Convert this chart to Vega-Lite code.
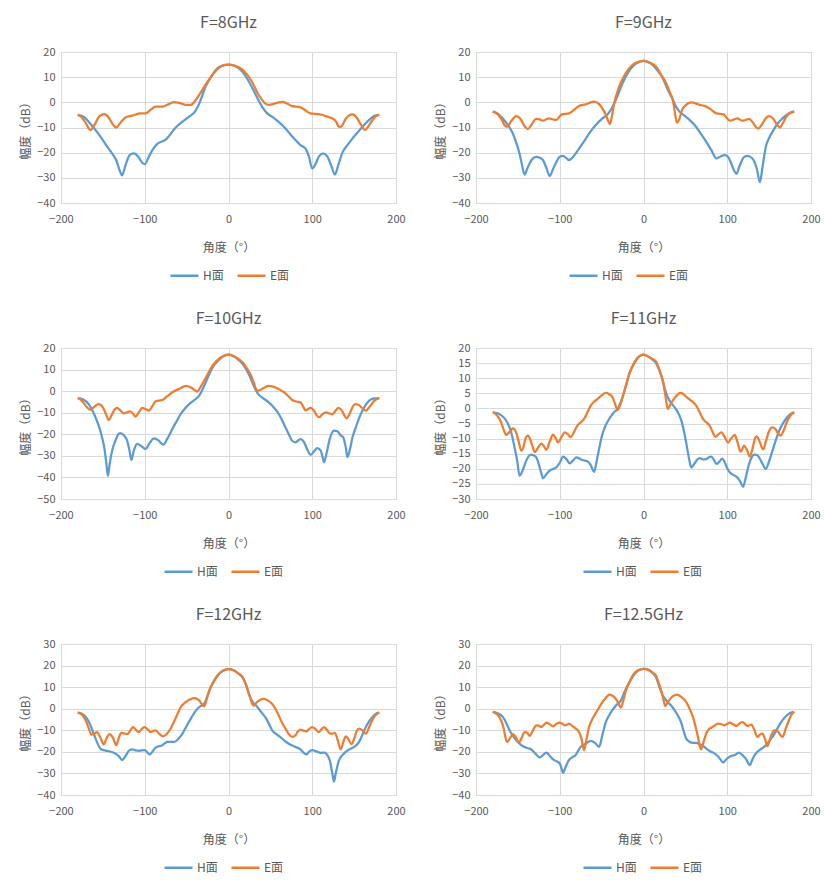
{
  "$schema": "https://vega.github.io/schema/vega-lite/v6.json",
  "background": "white",
  "padding": {"top": 14, "left": 19, "right": 10, "bottom": 8},
  "datasets": {
    "pattern": [
      {"freq":"8","plane":"H面","angle":-180,"dB":-5},{"freq":"8","plane":"H面","angle":-172,"dB":-6},{"freq":"8","plane":"H面","angle":-167,"dB":-7.7},{"freq":"8","plane":"H面","angle":-160,"dB":-10.5},{"freq":"8","plane":"H面","angle":-152,"dB":-14},{"freq":"8","plane":"H面","angle":-145,"dB":-17.5},{"freq":"8","plane":"H面","angle":-139,"dB":-20.3},{"freq":"8","plane":"H面","angle":-134,"dB":-23},{"freq":"8","plane":"H面","angle":-130,"dB":-27},{"freq":"8","plane":"H面","angle":-127,"dB":-29},{"freq":"8","plane":"H面","angle":-123,"dB":-25},{"freq":"8","plane":"H面","angle":-118,"dB":-21},{"freq":"8","plane":"H面","angle":-113,"dB":-20.3},{"freq":"8","plane":"H面","angle":-108,"dB":-21.5},{"freq":"8","plane":"H面","angle":-103,"dB":-24},{"freq":"8","plane":"H面","angle":-100,"dB":-24.6},{"freq":"8","plane":"H面","angle":-95,"dB":-21.5},{"freq":"8","plane":"H面","angle":-90,"dB":-18.5},{"freq":"8","plane":"H面","angle":-85,"dB":-16.5},{"freq":"8","plane":"H面","angle":-75,"dB":-14.8},{"freq":"8","plane":"H面","angle":-63,"dB":-10},{"freq":"8","plane":"H面","angle":-55,"dB":-7.7},{"freq":"8","plane":"H面","angle":-47,"dB":-5.7},{"freq":"8","plane":"H面","angle":-40,"dB":-3.7},{"freq":"8","plane":"H面","angle":-35,"dB":-0.5},{"freq":"8","plane":"H面","angle":-27,"dB":6.5},{"freq":"8","plane":"H面","angle":-20,"dB":10.5},{"freq":"8","plane":"H面","angle":-15,"dB":13},{"freq":"8","plane":"H面","angle":-8,"dB":14.5},{"freq":"8","plane":"H面","angle":0,"dB":15},{"freq":"8","plane":"H面","angle":8,"dB":14.4},{"freq":"8","plane":"H面","angle":17,"dB":12},{"freq":"8","plane":"H面","angle":28,"dB":6},{"freq":"8","plane":"H面","angle":34,"dB":2},{"freq":"8","plane":"H面","angle":40,"dB":-1.7},{"freq":"8","plane":"H面","angle":46,"dB":-4.3},{"freq":"8","plane":"H面","angle":52,"dB":-5.7},{"freq":"8","plane":"H面","angle":60,"dB":-7.8},{"freq":"8","plane":"H面","angle":68,"dB":-10.4},{"freq":"8","plane":"H面","angle":74,"dB":-12.8},{"freq":"8","plane":"H面","angle":80,"dB":-15},{"freq":"8","plane":"H面","angle":86,"dB":-17},{"freq":"8","plane":"H面","angle":92,"dB":-18.4},{"freq":"8","plane":"H面","angle":96,"dB":-21.5},{"freq":"8","plane":"H面","angle":100,"dB":-26.3},{"freq":"8","plane":"H面","angle":104,"dB":-24.5},{"freq":"8","plane":"H面","angle":108,"dB":-21.5},{"freq":"8","plane":"H面","angle":113,"dB":-20.3},{"freq":"8","plane":"H面","angle":118,"dB":-21.5},{"freq":"8","plane":"H面","angle":123,"dB":-25.5},{"freq":"8","plane":"H面","angle":127,"dB":-28.7},{"freq":"8","plane":"H面","angle":131,"dB":-25},{"freq":"8","plane":"H面","angle":136,"dB":-20},{"freq":"8","plane":"H面","angle":142,"dB":-17},{"freq":"8","plane":"H面","angle":148,"dB":-14.4},{"freq":"8","plane":"H面","angle":154,"dB":-12},{"freq":"8","plane":"H面","angle":160,"dB":-9.7},{"freq":"8","plane":"H面","angle":170,"dB":-6.4},{"freq":"8","plane":"H面","angle":175,"dB":-5.3},{"freq":"8","plane":"H面","angle":180,"dB":-5},
      {"freq":"8","plane":"E面","angle":-180,"dB":-5},{"freq":"8","plane":"E面","angle":-175,"dB":-6},{"freq":"8","plane":"E面","angle":-170,"dB":-8.5},{"freq":"8","plane":"E面","angle":-165,"dB":-11},{"freq":"8","plane":"E面","angle":-160,"dB":-9},{"freq":"8","plane":"E面","angle":-154,"dB":-5.5},{"freq":"8","plane":"E面","angle":-148,"dB":-4.7},{"freq":"8","plane":"E面","angle":-143,"dB":-6},{"freq":"8","plane":"E面","angle":-138,"dB":-8.8},{"freq":"8","plane":"E面","angle":-134,"dB":-10},{"freq":"8","plane":"E面","angle":-130,"dB":-8.5},{"freq":"8","plane":"E面","angle":-123,"dB":-6},{"freq":"8","plane":"E面","angle":-115,"dB":-5.3},{"freq":"8","plane":"E面","angle":-105,"dB":-4.4},{"freq":"8","plane":"E面","angle":-99,"dB":-4.4},{"freq":"8","plane":"E面","angle":-93,"dB":-3},{"freq":"8","plane":"E面","angle":-87,"dB":-1.7},{"freq":"8","plane":"E面","angle":-79,"dB":-1.7},{"freq":"8","plane":"E面","angle":-72,"dB":-0.8},{"freq":"8","plane":"E面","angle":-65,"dB":0.1},{"freq":"8","plane":"E面","angle":-58,"dB":-0.3},{"freq":"8","plane":"E面","angle":-51,"dB":-1},{"freq":"8","plane":"E面","angle":-45,"dB":-1},{"freq":"8","plane":"E面","angle":-40,"dB":0.5},{"freq":"8","plane":"E面","angle":-35,"dB":3},{"freq":"8","plane":"E面","angle":-25,"dB":8.2},{"freq":"8","plane":"E面","angle":-15,"dB":12.6},{"freq":"8","plane":"E面","angle":-8,"dB":14.4},{"freq":"8","plane":"E面","angle":0,"dB":15},{"freq":"8","plane":"E面","angle":8,"dB":14.5},{"freq":"8","plane":"E面","angle":17,"dB":12.9},{"freq":"8","plane":"E面","angle":28,"dB":8.2},{"freq":"8","plane":"E面","angle":35,"dB":3.5},{"freq":"8","plane":"E面","angle":40,"dB":1},{"freq":"8","plane":"E面","angle":44,"dB":-0.5},{"freq":"8","plane":"E面","angle":48,"dB":-1},{"freq":"8","plane":"E面","angle":55,"dB":-0.5},{"freq":"8","plane":"E面","angle":60,"dB":0},{"freq":"8","plane":"E面","angle":65,"dB":0.2},{"freq":"8","plane":"E面","angle":70,"dB":-0.5},{"freq":"8","plane":"E面","angle":76,"dB":-1.5},{"freq":"8","plane":"E面","angle":86,"dB":-2},{"freq":"8","plane":"E面","angle":92,"dB":-3.2},{"freq":"8","plane":"E面","angle":98,"dB":-4.4},{"freq":"8","plane":"E面","angle":108,"dB":-4.7},{"freq":"8","plane":"E面","angle":118,"dB":-5.7},{"freq":"8","plane":"E面","angle":126,"dB":-6.8},{"freq":"8","plane":"E面","angle":129,"dB":-8},{"freq":"8","plane":"E面","angle":132,"dB":-9.8},{"freq":"8","plane":"E面","angle":135,"dB":-9.5},{"freq":"8","plane":"E面","angle":140,"dB":-6.5},{"freq":"8","plane":"E面","angle":148,"dB":-4.8},{"freq":"8","plane":"E面","angle":153,"dB":-6},{"freq":"8","plane":"E面","angle":158,"dB":-8.8},{"freq":"8","plane":"E面","angle":163,"dB":-11},{"freq":"8","plane":"E面","angle":167,"dB":-9.5},{"freq":"8","plane":"E面","angle":172,"dB":-7},{"freq":"8","plane":"E面","angle":176,"dB":-5.5},{"freq":"8","plane":"E面","angle":180,"dB":-5},
      {"freq":"9","plane":"H面","angle":-180,"dB":-3.7},{"freq":"9","plane":"H面","angle":-174,"dB":-4.5},{"freq":"9","plane":"H面","angle":-168,"dB":-6.4},{"freq":"9","plane":"H面","angle":-162,"dB":-9},{"freq":"9","plane":"H面","angle":-156,"dB":-12.4},{"freq":"9","plane":"H面","angle":-152,"dB":-16},{"freq":"9","plane":"H面","angle":-148,"dB":-20.4},{"freq":"9","plane":"H面","angle":-145,"dB":-25},{"freq":"9","plane":"H面","angle":-142,"dB":-28.7},{"freq":"9","plane":"H面","angle":-139,"dB":-26.5},{"freq":"9","plane":"H面","angle":-136,"dB":-24.3},{"freq":"9","plane":"H面","angle":-132,"dB":-22.3},{"freq":"9","plane":"H面","angle":-128,"dB":-21.7},{"freq":"9","plane":"H面","angle":-124,"dB":-22},{"freq":"9","plane":"H面","angle":-120,"dB":-23},{"freq":"9","plane":"H面","angle":-116,"dB":-26},{"freq":"9","plane":"H面","angle":-112,"dB":-29.3},{"freq":"9","plane":"H面","angle":-108,"dB":-26.5},{"freq":"9","plane":"H面","angle":-104,"dB":-23.7},{"freq":"9","plane":"H面","angle":-100,"dB":-21.6},{"freq":"9","plane":"H面","angle":-96,"dB":-21.3},{"freq":"9","plane":"H面","angle":-92,"dB":-22.2},{"freq":"9","plane":"H面","angle":-89,"dB":-23},{"freq":"9","plane":"H面","angle":-85,"dB":-22},{"freq":"9","plane":"H面","angle":-77,"dB":-18.4},{"freq":"9","plane":"H面","angle":-70,"dB":-15},{"freq":"9","plane":"H面","angle":-65,"dB":-12.4},{"freq":"9","plane":"H面","angle":-57,"dB":-9},{"freq":"9","plane":"H面","angle":-49,"dB":-6.4},{"freq":"9","plane":"H面","angle":-43,"dB":-4.8},{"freq":"9","plane":"H面","angle":-39,"dB":-3},{"freq":"9","plane":"H面","angle":-33,"dB":1},{"freq":"9","plane":"H面","angle":-25,"dB":7.6},{"freq":"9","plane":"H面","angle":-19,"dB":11.5},{"freq":"9","plane":"H面","angle":-13,"dB":14.2},{"freq":"9","plane":"H面","angle":-6,"dB":15.9},{"freq":"9","plane":"H面","angle":0,"dB":16.5},{"freq":"9","plane":"H面","angle":5,"dB":16},{"freq":"9","plane":"H面","angle":11,"dB":14.9},{"freq":"9","plane":"H面","angle":17,"dB":12.5},{"freq":"9","plane":"H面","angle":23,"dB":9.6},{"freq":"9","plane":"H面","angle":29,"dB":5},{"freq":"9","plane":"H面","angle":35,"dB":1},{"freq":"9","plane":"H面","angle":39,"dB":-1.8},{"freq":"9","plane":"H面","angle":43,"dB":-3.7},{"freq":"9","plane":"H面","angle":49,"dB":-5.3},{"freq":"9","plane":"H面","angle":55,"dB":-7},{"freq":"9","plane":"H面","angle":61,"dB":-9},{"freq":"9","plane":"H面","angle":67,"dB":-11.7},{"freq":"9","plane":"H面","angle":75,"dB":-15.7},{"freq":"9","plane":"H面","angle":81,"dB":-19},{"freq":"9","plane":"H面","angle":87,"dB":-22.3},{"freq":"9","plane":"H面","angle":92,"dB":-21.5},{"freq":"9","plane":"H面","angle":97,"dB":-21},{"freq":"9","plane":"H面","angle":101,"dB":-21.7},{"freq":"9","plane":"H面","angle":105,"dB":-24.5},{"freq":"9","plane":"H面","angle":108,"dB":-27},{"freq":"9","plane":"H面","angle":111,"dB":-28.3},{"freq":"9","plane":"H面","angle":115,"dB":-25},{"freq":"9","plane":"H面","angle":120,"dB":-21.8},{"freq":"9","plane":"H面","angle":124,"dB":-21.3},{"freq":"9","plane":"H面","angle":130,"dB":-22.3},{"freq":"9","plane":"H面","angle":135,"dB":-26},{"freq":"9","plane":"H面","angle":139,"dB":-31.7},{"freq":"9","plane":"H面","angle":142,"dB":-26},{"freq":"9","plane":"H面","angle":146,"dB":-17.7},{"freq":"9","plane":"H面","angle":150,"dB":-14.2},{"freq":"9","plane":"H面","angle":154,"dB":-11.7},{"freq":"9","plane":"H面","angle":160,"dB":-8.5},{"freq":"9","plane":"H面","angle":166,"dB":-6.4},{"freq":"9","plane":"H面","angle":173,"dB":-4.5},{"freq":"9","plane":"H面","angle":180,"dB":-3.7},
      {"freq":"9","plane":"E面","angle":-180,"dB":-3.7},{"freq":"9","plane":"E面","angle":-175,"dB":-4.5},{"freq":"9","plane":"E面","angle":-170,"dB":-6.5},{"freq":"9","plane":"E面","angle":-166,"dB":-9},{"freq":"9","plane":"E面","angle":-163,"dB":-9.7},{"freq":"9","plane":"E面","angle":-158,"dB":-7.5},{"freq":"9","plane":"E面","angle":-152,"dB":-5.5},{"freq":"9","plane":"E面","angle":-147,"dB":-6.5},{"freq":"9","plane":"E面","angle":-142,"dB":-9.5},{"freq":"9","plane":"E面","angle":-138,"dB":-10.6},{"freq":"9","plane":"E面","angle":-134,"dB":-9},{"freq":"9","plane":"E面","angle":-128,"dB":-6.6},{"freq":"9","plane":"E面","angle":-124,"dB":-6.8},{"freq":"9","plane":"E面","angle":-120,"dB":-7.3},{"freq":"9","plane":"E面","angle":-116,"dB":-6.7},{"freq":"9","plane":"E面","angle":-113,"dB":-6.4},{"freq":"9","plane":"E面","angle":-108,"dB":-6.8},{"freq":"9","plane":"E面","angle":-104,"dB":-7},{"freq":"9","plane":"E面","angle":-100,"dB":-5.6},{"freq":"9","plane":"E面","angle":-97,"dB":-4.7},{"freq":"9","plane":"E面","angle":-89,"dB":-4.4},{"freq":"9","plane":"E面","angle":-83,"dB":-3},{"freq":"9","plane":"E面","angle":-77,"dB":-1.5},{"freq":"9","plane":"E面","angle":-69,"dB":-0.8},{"freq":"9","plane":"E面","angle":-63,"dB":0},{"freq":"9","plane":"E面","angle":-59,"dB":0.3},{"freq":"9","plane":"E面","angle":-53,"dB":-0.7},{"freq":"9","plane":"E面","angle":-48,"dB":-3},{"freq":"9","plane":"E面","angle":-45,"dB":-5},{"freq":"9","plane":"E面","angle":-42,"dB":-7.5},{"freq":"9","plane":"E面","angle":-40,"dB":-8.6},{"freq":"9","plane":"E面","angle":-38,"dB":-6},{"freq":"9","plane":"E面","angle":-35,"dB":-0.4},{"freq":"9","plane":"E面","angle":-29,"dB":6.3},{"freq":"9","plane":"E面","angle":-23,"dB":10.5},{"freq":"9","plane":"E面","angle":-17,"dB":13.6},{"freq":"9","plane":"E面","angle":-9,"dB":15.7},{"freq":"9","plane":"E面","angle":0,"dB":16.5},{"freq":"9","plane":"E面","angle":7,"dB":15.9},{"freq":"9","plane":"E面","angle":15,"dB":14.2},{"freq":"9","plane":"E面","angle":21,"dB":11},{"freq":"9","plane":"E面","angle":27,"dB":7.6},{"freq":"9","plane":"E面","angle":32,"dB":3.5},{"freq":"9","plane":"E面","angle":35,"dB":1},{"freq":"9","plane":"E面","angle":37,"dB":-3},{"freq":"9","plane":"E面","angle":40,"dB":-8.1},{"freq":"9","plane":"E面","angle":43,"dB":-6.5},{"freq":"9","plane":"E面","angle":46,"dB":-3},{"freq":"9","plane":"E面","angle":50,"dB":-1.3},{"freq":"9","plane":"E面","angle":54,"dB":-0.3},{"freq":"9","plane":"E面","angle":58,"dB":0},{"freq":"9","plane":"E面","angle":62,"dB":-0.4},{"freq":"9","plane":"E面","angle":67,"dB":-1},{"freq":"9","plane":"E面","angle":75,"dB":-1.7},{"freq":"9","plane":"E面","angle":80,"dB":-2.7},{"freq":"9","plane":"E面","angle":87,"dB":-4.4},{"freq":"9","plane":"E面","angle":95,"dB":-4.7},{"freq":"9","plane":"E面","angle":99,"dB":-6},{"freq":"9","plane":"E面","angle":103,"dB":-7.3},{"freq":"9","plane":"E面","angle":108,"dB":-6.8},{"freq":"9","plane":"E面","angle":112,"dB":-6.4},{"freq":"9","plane":"E面","angle":118,"dB":-7.3},{"freq":"9","plane":"E面","angle":122,"dB":-7},{"freq":"9","plane":"E面","angle":126,"dB":-6.6},{"freq":"9","plane":"E面","angle":130,"dB":-7.8},{"freq":"9","plane":"E面","angle":134,"dB":-9.7},{"freq":"9","plane":"E面","angle":137,"dB":-10.4},{"freq":"9","plane":"E面","angle":141,"dB":-9},{"freq":"9","plane":"E面","angle":146,"dB":-6.3},{"freq":"9","plane":"E面","angle":150,"dB":-5.5},{"freq":"9","plane":"E面","angle":155,"dB":-6.5},{"freq":"9","plane":"E面","angle":160,"dB":-9.2},{"freq":"9","plane":"E面","angle":163,"dB":-10},{"freq":"9","plane":"E面","angle":166,"dB":-8.5},{"freq":"9","plane":"E面","angle":172,"dB":-5},{"freq":"9","plane":"E面","angle":176,"dB":-4},{"freq":"9","plane":"E面","angle":180,"dB":-3.7},
      {"freq":"10","plane":"H面","angle":-180,"dB":-3.2},{"freq":"10","plane":"H面","angle":-174,"dB":-3.8},{"freq":"10","plane":"H面","angle":-167,"dB":-6},{"freq":"10","plane":"H面","angle":-163,"dB":-8.5},{"freq":"10","plane":"H面","angle":-159,"dB":-12},{"freq":"10","plane":"H面","angle":-155,"dB":-16},{"freq":"10","plane":"H面","angle":-151,"dB":-21.4},{"freq":"10","plane":"H面","angle":-148,"dB":-27},{"freq":"10","plane":"H面","angle":-146,"dB":-33},{"freq":"10","plane":"H面","angle":-144,"dB":-39.3},{"freq":"10","plane":"H面","angle":-142,"dB":-34},{"freq":"10","plane":"H面","angle":-139,"dB":-27.6},{"freq":"10","plane":"H面","angle":-135,"dB":-23},{"freq":"10","plane":"H面","angle":-132,"dB":-20.3},{"freq":"10","plane":"H面","angle":-129,"dB":-19.5},{"freq":"10","plane":"H面","angle":-125,"dB":-20.5},{"freq":"10","plane":"H面","angle":-121,"dB":-23},{"freq":"10","plane":"H面","angle":-118,"dB":-28},{"freq":"10","plane":"H面","angle":-116,"dB":-32},{"freq":"10","plane":"H面","angle":-113,"dB":-27.5},{"freq":"10","plane":"H面","angle":-109,"dB":-24.5},{"freq":"10","plane":"H面","angle":-104,"dB":-25.5},{"freq":"10","plane":"H面","angle":-99,"dB":-26.8},{"freq":"10","plane":"H面","angle":-94,"dB":-24},{"freq":"10","plane":"H面","angle":-89,"dB":-21.9},{"freq":"10","plane":"H面","angle":-84,"dB":-22.7},{"freq":"10","plane":"H面","angle":-78,"dB":-24.8},{"freq":"10","plane":"H面","angle":-73,"dB":-22},{"freq":"10","plane":"H面","angle":-67,"dB":-17.5},{"freq":"10","plane":"H面","angle":-62,"dB":-14},{"freq":"10","plane":"H面","angle":-57,"dB":-10.6},{"freq":"10","plane":"H面","angle":-52,"dB":-8},{"freq":"10","plane":"H面","angle":-47,"dB":-6},{"freq":"10","plane":"H面","angle":-41,"dB":-4.2},{"freq":"10","plane":"H面","angle":-35,"dB":-2.1},{"freq":"10","plane":"H面","angle":-29,"dB":2.5},{"freq":"10","plane":"H面","angle":-24,"dB":7},{"freq":"10","plane":"H面","angle":-19,"dB":11},{"freq":"10","plane":"H面","angle":-12,"dB":14.3},{"freq":"10","plane":"H面","angle":-6,"dB":16.2},{"freq":"10","plane":"H面","angle":0,"dB":16.9},{"freq":"10","plane":"H面","angle":6,"dB":16.2},{"freq":"10","plane":"H面","angle":12,"dB":14.5},{"freq":"10","plane":"H面","angle":17,"dB":12.6},{"freq":"10","plane":"H面","angle":25,"dB":7.2},{"freq":"10","plane":"H面","angle":29,"dB":3.5},{"freq":"10","plane":"H面","angle":33,"dB":0.2},{"freq":"10","plane":"H面","angle":36,"dB":-1.6},{"freq":"10","plane":"H面","angle":40,"dB":-2.9},{"freq":"10","plane":"H面","angle":48,"dB":-5.2},{"freq":"10","plane":"H面","angle":54,"dB":-7.5},{"freq":"10","plane":"H面","angle":60,"dB":-10.6},{"freq":"10","plane":"H面","angle":64,"dB":-13.5},{"freq":"10","plane":"H面","angle":68,"dB":-16.8},{"freq":"10","plane":"H面","angle":72,"dB":-20},{"freq":"10","plane":"H面","angle":76,"dB":-23},{"freq":"10","plane":"H面","angle":80,"dB":-23.7},{"freq":"10","plane":"H面","angle":86,"dB":-22.2},{"freq":"10","plane":"H面","angle":90,"dB":-23.5},{"freq":"10","plane":"H面","angle":94,"dB":-27},{"freq":"10","plane":"H面","angle":98,"dB":-29.5},{"freq":"10","plane":"H面","angle":102,"dB":-28},{"freq":"10","plane":"H面","angle":106,"dB":-26.4},{"freq":"10","plane":"H面","angle":110,"dB":-27.5},{"freq":"10","plane":"H面","angle":112,"dB":-30},{"freq":"10","plane":"H面","angle":114,"dB":-33},{"freq":"10","plane":"H面","angle":117,"dB":-29},{"freq":"10","plane":"H面","angle":121,"dB":-22},{"freq":"10","plane":"H面","angle":126,"dB":-18.3},{"freq":"10","plane":"H面","angle":130,"dB":-18.6},{"freq":"10","plane":"H面","angle":134,"dB":-20.5},{"freq":"10","plane":"H面","angle":137,"dB":-21.4},{"freq":"10","plane":"H面","angle":140,"dB":-26},{"freq":"10","plane":"H面","angle":142,"dB":-30.5},{"freq":"10","plane":"H面","angle":145,"dB":-27},{"freq":"10","plane":"H面","angle":148,"dB":-21.5},{"freq":"10","plane":"H面","angle":152,"dB":-16.8},{"freq":"10","plane":"H面","angle":156,"dB":-12.5},{"freq":"10","plane":"H面","angle":160,"dB":-9},{"freq":"10","plane":"H面","angle":168,"dB":-4.4},{"freq":"10","plane":"H面","angle":174,"dB":-3.4},{"freq":"10","plane":"H面","angle":180,"dB":-3.2},
      {"freq":"10","plane":"E面","angle":-180,"dB":-3.2},{"freq":"10","plane":"E面","angle":-175,"dB":-4.5},{"freq":"10","plane":"E面","angle":-170,"dB":-7},{"freq":"10","plane":"E面","angle":-165,"dB":-8.7},{"freq":"10","plane":"E面","angle":-161,"dB":-7.5},{"freq":"10","plane":"E面","angle":-155,"dB":-6},{"freq":"10","plane":"E面","angle":-150,"dB":-7.5},{"freq":"10","plane":"E面","angle":-146,"dB":-11},{"freq":"10","plane":"E面","angle":-143,"dB":-13.4},{"freq":"10","plane":"E面","angle":-140,"dB":-11.5},{"freq":"10","plane":"E面","angle":-136,"dB":-8.5},{"freq":"10","plane":"E面","angle":-133,"dB":-7.8},{"freq":"10","plane":"E面","angle":-129,"dB":-9},{"freq":"10","plane":"E面","angle":-125,"dB":-10.3},{"freq":"10","plane":"E面","angle":-121,"dB":-9.8},{"freq":"10","plane":"E面","angle":-118,"dB":-9.4},{"freq":"10","plane":"E面","angle":-114,"dB":-10.5},{"freq":"10","plane":"E面","angle":-111,"dB":-11.8},{"freq":"10","plane":"E面","angle":-107,"dB":-9.8},{"freq":"10","plane":"E面","angle":-103,"dB":-7.8},{"freq":"10","plane":"E面","angle":-99,"dB":-8.3},{"freq":"10","plane":"E面","angle":-95,"dB":-9},{"freq":"10","plane":"E面","angle":-91,"dB":-7},{"freq":"10","plane":"E面","angle":-87,"dB":-4.7},{"freq":"10","plane":"E面","angle":-79,"dB":-4.1},{"freq":"10","plane":"E面","angle":-73,"dB":-2.3},{"freq":"10","plane":"E面","angle":-67,"dB":-0.5},{"freq":"10","plane":"E面","angle":-59,"dB":1},{"freq":"10","plane":"E面","angle":-51,"dB":2.4},{"freq":"10","plane":"E面","angle":-45,"dB":1.7},{"freq":"10","plane":"E面","angle":-40,"dB":0.4},{"freq":"10","plane":"E面","angle":-37,"dB":-0.2},{"freq":"10","plane":"E面","angle":-34,"dB":1.5},{"freq":"10","plane":"E面","angle":-29,"dB":4.9},{"freq":"10","plane":"E面","angle":-24,"dB":8.5},{"freq":"10","plane":"E面","angle":-19,"dB":11.8},{"freq":"10","plane":"E面","angle":-12,"dB":14.8},{"freq":"10","plane":"E面","angle":-6,"dB":16.3},{"freq":"10","plane":"E面","angle":0,"dB":16.9},{"freq":"10","plane":"E面","angle":6,"dB":16.3},{"freq":"10","plane":"E面","angle":12,"dB":14.8},{"freq":"10","plane":"E面","angle":17,"dB":13.3},{"freq":"10","plane":"E面","angle":22,"dB":10.5},{"freq":"10","plane":"E面","angle":27,"dB":7.2},{"freq":"10","plane":"E面","angle":31,"dB":3},{"freq":"10","plane":"E面","angle":34,"dB":0.2},{"freq":"10","plane":"E面","angle":38,"dB":0.5},{"freq":"10","plane":"E面","angle":43,"dB":1.7},{"freq":"10","plane":"E面","angle":48,"dB":2.4},{"freq":"10","plane":"E面","angle":54,"dB":2},{"freq":"10","plane":"E面","angle":60,"dB":1},{"freq":"10","plane":"E面","angle":64,"dB":0},{"freq":"10","plane":"E面","angle":68,"dB":-1},{"freq":"10","plane":"E面","angle":72,"dB":-2.5},{"freq":"10","plane":"E面","angle":76,"dB":-4.1},{"freq":"10","plane":"E面","angle":81,"dB":-4.8},{"freq":"10","plane":"E面","angle":86,"dB":-5.2},{"freq":"10","plane":"E面","angle":89,"dB":-7},{"freq":"10","plane":"E面","angle":92,"dB":-9},{"freq":"10","plane":"E面","angle":95,"dB":-8.3},{"freq":"10","plane":"E面","angle":98,"dB":-7.8},{"freq":"10","plane":"E面","angle":102,"dB":-9},{"freq":"10","plane":"E面","angle":105,"dB":-11},{"freq":"10","plane":"E面","angle":108,"dB":-12.1},{"freq":"10","plane":"E面","angle":112,"dB":-10.8},{"freq":"10","plane":"E面","angle":116,"dB":-9.8},{"freq":"10","plane":"E面","angle":120,"dB":-10.3},{"freq":"10","plane":"E面","angle":124,"dB":-10.6},{"freq":"10","plane":"E面","angle":128,"dB":-9},{"freq":"10","plane":"E面","angle":131,"dB":-7.8},{"freq":"10","plane":"E面","angle":135,"dB":-8.8},{"freq":"10","plane":"E面","angle":138,"dB":-11},{"freq":"10","plane":"E面","angle":141,"dB":-12.6},{"freq":"10","plane":"E面","angle":144,"dB":-11},{"freq":"10","plane":"E面","angle":148,"dB":-7.5},{"freq":"10","plane":"E面","angle":151,"dB":-6},{"freq":"10","plane":"E面","angle":155,"dB":-6.3},{"freq":"10","plane":"E面","angle":160,"dB":-8},{"freq":"10","plane":"E面","angle":164,"dB":-9},{"freq":"10","plane":"E面","angle":168,"dB":-7.5},{"freq":"10","plane":"E面","angle":174,"dB":-4.5},{"freq":"10","plane":"E面","angle":180,"dB":-3.2},
      {"freq":"11","plane":"H面","angle":-180,"dB":-1.3},{"freq":"11","plane":"H面","angle":-174,"dB":-1.6},{"freq":"11","plane":"H面","angle":-168,"dB":-2.7},{"freq":"11","plane":"H面","angle":-164,"dB":-4},{"freq":"11","plane":"H面","angle":-160,"dB":-6.3},{"freq":"11","plane":"H面","angle":-157,"dB":-9},{"freq":"11","plane":"H面","angle":-154,"dB":-12.9},{"freq":"11","plane":"H面","angle":-151,"dB":-17},{"freq":"11","plane":"H面","angle":-148,"dB":-22.3},{"freq":"11","plane":"H面","angle":-145,"dB":-21},{"freq":"11","plane":"H面","angle":-140,"dB":-17.3},{"freq":"11","plane":"H面","angle":-137,"dB":-15.8},{"freq":"11","plane":"H面","angle":-134,"dB":-15.3},{"freq":"11","plane":"H面","angle":-131,"dB":-15.6},{"freq":"11","plane":"H面","angle":-128,"dB":-16.2},{"freq":"11","plane":"H面","angle":-125,"dB":-18.5},{"freq":"11","plane":"H面","angle":-122,"dB":-21.5},{"freq":"11","plane":"H面","angle":-120,"dB":-23.1},{"freq":"11","plane":"H面","angle":-116,"dB":-21.8},{"freq":"11","plane":"H面","angle":-112,"dB":-20.6},{"freq":"11","plane":"H面","angle":-104,"dB":-19.5},{"freq":"11","plane":"H面","angle":-100,"dB":-18},{"freq":"11","plane":"H面","angle":-96,"dB":-16},{"freq":"11","plane":"H面","angle":-92,"dB":-16.8},{"freq":"11","plane":"H面","angle":-88,"dB":-18.2},{"freq":"11","plane":"H面","angle":-84,"dB":-17.2},{"freq":"11","plane":"H面","angle":-80,"dB":-16.2},{"freq":"11","plane":"H面","angle":-76,"dB":-16.7},{"freq":"11","plane":"H面","angle":-73,"dB":-17.1},{"freq":"11","plane":"H面","angle":-67,"dB":-17.5},{"freq":"11","plane":"H面","angle":-63,"dB":-18.8},{"freq":"11","plane":"H面","angle":-59,"dB":-21},{"freq":"11","plane":"H面","angle":-57,"dB":-19},{"freq":"11","plane":"H面","angle":-55,"dB":-16.2},{"freq":"11","plane":"H面","angle":-52,"dB":-12},{"freq":"11","plane":"H面","angle":-49,"dB":-8.5},{"freq":"11","plane":"H面","angle":-45,"dB":-5.5},{"freq":"11","plane":"H面","angle":-41,"dB":-3.5},{"freq":"11","plane":"H面","angle":-36,"dB":-1.5},{"freq":"11","plane":"H面","angle":-31,"dB":-0.2},{"freq":"11","plane":"H面","angle":-28,"dB":1.5},{"freq":"11","plane":"H面","angle":-25,"dB":3.7},{"freq":"11","plane":"H面","angle":-21,"dB":7.5},{"freq":"11","plane":"H面","angle":-17,"dB":11.4},{"freq":"11","plane":"H面","angle":-11,"dB":15},{"freq":"11","plane":"H面","angle":-5,"dB":17.2},{"freq":"11","plane":"H面","angle":0,"dB":17.8},{"freq":"11","plane":"H面","angle":5,"dB":17.3},{"freq":"11","plane":"H面","angle":10,"dB":16.3},{"freq":"11","plane":"H面","angle":15,"dB":15},{"freq":"11","plane":"H面","angle":19,"dB":12.5},{"freq":"11","plane":"H面","angle":23,"dB":9.2},{"freq":"11","plane":"H面","angle":26,"dB":6},{"freq":"11","plane":"H面","angle":29,"dB":3.7},{"freq":"11","plane":"H面","angle":33,"dB":1.8},{"freq":"11","plane":"H面","angle":37,"dB":0.4},{"freq":"11","plane":"H面","angle":40,"dB":-0.8},{"freq":"11","plane":"H面","angle":43,"dB":-2.4},{"freq":"11","plane":"H面","angle":46,"dB":-4.8},{"freq":"11","plane":"H面","angle":49,"dB":-8.5},{"freq":"11","plane":"H面","angle":52,"dB":-13},{"freq":"11","plane":"H面","angle":55,"dB":-17.5},{"freq":"11","plane":"H面","angle":57,"dB":-19.5},{"freq":"11","plane":"H面","angle":61,"dB":-18.2},{"freq":"11","plane":"H面","angle":64,"dB":-17},{"freq":"11","plane":"H面","angle":67,"dB":-16.5},{"freq":"11","plane":"H面","angle":71,"dB":-16.9},{"freq":"11","plane":"H面","angle":75,"dB":-16.8},{"freq":"11","plane":"H面","angle":78,"dB":-16.2},{"freq":"11","plane":"H面","angle":81,"dB":-16},{"freq":"11","plane":"H面","angle":84,"dB":-17},{"freq":"11","plane":"H面","angle":87,"dB":-18.4},{"freq":"11","plane":"H面","angle":91,"dB":-17.5},{"freq":"11","plane":"H面","angle":94,"dB":-16.6},{"freq":"11","plane":"H面","angle":97,"dB":-17.8},{"freq":"11","plane":"H面","angle":100,"dB":-19.8},{"freq":"11","plane":"H面","angle":103,"dB":-21.2},{"freq":"11","plane":"H面","angle":107,"dB":-22},{"freq":"11","plane":"H面","angle":111,"dB":-22.6},{"freq":"11","plane":"H面","angle":115,"dB":-24},{"freq":"11","plane":"H面","angle":119,"dB":-25.9},{"freq":"11","plane":"H面","angle":122,"dB":-23},{"freq":"11","plane":"H面","angle":126,"dB":-18.4},{"freq":"11","plane":"H面","angle":129,"dB":-16.3},{"freq":"11","plane":"H面","angle":132,"dB":-15.3},{"freq":"11","plane":"H面","angle":135,"dB":-15.4},{"freq":"11","plane":"H面","angle":138,"dB":-16.2},{"freq":"11","plane":"H面","angle":142,"dB":-18.3},{"freq":"11","plane":"H面","angle":146,"dB":-20},{"freq":"11","plane":"H面","angle":150,"dB":-17.5},{"freq":"11","plane":"H面","angle":154,"dB":-14},{"freq":"11","plane":"H面","angle":158,"dB":-10.5},{"freq":"11","plane":"H面","angle":162,"dB":-7.4},{"freq":"11","plane":"H面","angle":166,"dB":-5.2},{"freq":"11","plane":"H面","angle":170,"dB":-3.5},{"freq":"11","plane":"H面","angle":175,"dB":-2},{"freq":"11","plane":"H面","angle":180,"dB":-1.3},
      {"freq":"11","plane":"E面","angle":-180,"dB":-1.3},{"freq":"11","plane":"E面","angle":-175,"dB":-2.3},{"freq":"11","plane":"E面","angle":-170,"dB":-4.6},{"freq":"11","plane":"E面","angle":-167,"dB":-7},{"freq":"11","plane":"E面","angle":-164,"dB":-8.8},{"freq":"11","plane":"E面","angle":-160,"dB":-7.8},{"freq":"11","plane":"E面","angle":-156,"dB":-6.6},{"freq":"11","plane":"E面","angle":-152,"dB":-8},{"freq":"11","plane":"E面","angle":-149,"dB":-11},{"freq":"11","plane":"E面","angle":-146,"dB":-14},{"freq":"11","plane":"E面","angle":-143,"dB":-12.5},{"freq":"11","plane":"E面","angle":-141,"dB":-10},{"freq":"11","plane":"E面","angle":-138,"dB":-9},{"freq":"11","plane":"E面","angle":-135,"dB":-10.5},{"freq":"11","plane":"E面","angle":-132,"dB":-13},{"freq":"11","plane":"E面","angle":-130,"dB":-14.5},{"freq":"11","plane":"E面","angle":-126,"dB":-13},{"freq":"11","plane":"E面","angle":-122,"dB":-11.7},{"freq":"11","plane":"E面","angle":-119,"dB":-12.5},{"freq":"11","plane":"E面","angle":-116,"dB":-13.7},{"freq":"11","plane":"E面","angle":-112,"dB":-11},{"freq":"11","plane":"E面","angle":-108,"dB":-8.7},{"freq":"11","plane":"E面","angle":-105,"dB":-9.8},{"freq":"11","plane":"E面","angle":-102,"dB":-11.3},{"freq":"11","plane":"E面","angle":-98,"dB":-9.5},{"freq":"11","plane":"E面","angle":-94,"dB":-7.9},{"freq":"11","plane":"E面","angle":-90,"dB":-8.7},{"freq":"11","plane":"E面","angle":-87,"dB":-9.5},{"freq":"11","plane":"E面","angle":-83,"dB":-7.8},{"freq":"11","plane":"E面","angle":-79,"dB":-5.7},{"freq":"11","plane":"E面","angle":-75,"dB":-4.6},{"freq":"11","plane":"E面","angle":-71,"dB":-3.5},{"freq":"11","plane":"E面","angle":-67,"dB":-1.3},{"freq":"11","plane":"E面","angle":-63,"dB":0.9},{"freq":"11","plane":"E面","angle":-59,"dB":2.2},{"freq":"11","plane":"E面","angle":-55,"dB":3.1},{"freq":"11","plane":"E面","angle":-50,"dB":4.3},{"freq":"11","plane":"E面","angle":-45,"dB":5.1},{"freq":"11","plane":"E面","angle":-41,"dB":4.7},{"freq":"11","plane":"E面","angle":-37,"dB":3.7},{"freq":"11","plane":"E面","angle":-34,"dB":1.5},{"freq":"11","plane":"E面","angle":-31,"dB":-0.5},{"freq":"11","plane":"E面","angle":-28,"dB":1},{"freq":"11","plane":"E面","angle":-25,"dB":3.7},{"freq":"11","plane":"E面","angle":-21,"dB":7.5},{"freq":"11","plane":"E面","angle":-17,"dB":11.4},{"freq":"11","plane":"E面","angle":-11,"dB":15.2},{"freq":"11","plane":"E面","angle":-5,"dB":17.3},{"freq":"11","plane":"E面","angle":0,"dB":17.8},{"freq":"11","plane":"E面","angle":5,"dB":17.3},{"freq":"11","plane":"E面","angle":10,"dB":16.5},{"freq":"11","plane":"E面","angle":15,"dB":15.5},{"freq":"11","plane":"E面","angle":19,"dB":12.8},{"freq":"11","plane":"E面","angle":23,"dB":9.2},{"freq":"11","plane":"E面","angle":26,"dB":4.5},{"freq":"11","plane":"E面","angle":29,"dB":-0.2},{"freq":"11","plane":"E面","angle":32,"dB":1.2},{"freq":"11","plane":"E面","angle":35,"dB":2.6},{"freq":"11","plane":"E面","angle":40,"dB":4.4},{"freq":"11","plane":"E面","angle":44,"dB":5.1},{"freq":"11","plane":"E面","angle":48,"dB":4.6},{"freq":"11","plane":"E面","angle":53,"dB":3.4},{"freq":"11","plane":"E面","angle":58,"dB":2.3},{"freq":"11","plane":"E面","angle":63,"dB":0.9},{"freq":"11","plane":"E面","angle":67,"dB":-1.2},{"freq":"11","plane":"E面","angle":71,"dB":-3.5},{"freq":"11","plane":"E面","angle":75,"dB":-4.6},{"freq":"11","plane":"E面","angle":79,"dB":-5.7},{"freq":"11","plane":"E面","angle":82,"dB":-7.5},{"freq":"11","plane":"E面","angle":86,"dB":-9.4},{"freq":"11","plane":"E面","angle":89,"dB":-8.7},{"freq":"11","plane":"E面","angle":93,"dB":-7.9},{"freq":"11","plane":"E面","angle":97,"dB":-9.5},{"freq":"11","plane":"E面","angle":101,"dB":-11.3},{"freq":"11","plane":"E面","angle":105,"dB":-9.8},{"freq":"11","plane":"E面","angle":109,"dB":-8.8},{"freq":"11","plane":"E面","angle":112,"dB":-11},{"freq":"11","plane":"E面","angle":116,"dB":-14.3},{"freq":"11","plane":"E面","angle":118,"dB":-13.5},{"freq":"11","plane":"E面","angle":120,"dB":-12.3},{"freq":"11","plane":"E面","angle":123,"dB":-13.5},{"freq":"11","plane":"E面","angle":127,"dB":-15.9},{"freq":"11","plane":"E面","angle":130,"dB":-13.5},{"freq":"11","plane":"E面","angle":133,"dB":-10},{"freq":"11","plane":"E面","angle":135,"dB":-9.3},{"freq":"11","plane":"E面","angle":138,"dB":-10.5},{"freq":"11","plane":"E面","angle":141,"dB":-12.8},{"freq":"11","plane":"E面","angle":143,"dB":-13.6},{"freq":"11","plane":"E面","angle":146,"dB":-11},{"freq":"11","plane":"E面","angle":150,"dB":-7.5},{"freq":"11","plane":"E面","angle":154,"dB":-6.3},{"freq":"11","plane":"E面","angle":158,"dB":-7},{"freq":"11","plane":"E面","angle":161,"dB":-8.5},{"freq":"11","plane":"E面","angle":164,"dB":-9},{"freq":"11","plane":"E面","angle":167,"dB":-7.5},{"freq":"11","plane":"E面","angle":172,"dB":-4},{"freq":"11","plane":"E面","angle":176,"dB":-2.2},{"freq":"11","plane":"E面","angle":180,"dB":-1.3},
      {"freq":"12","plane":"H面","angle":-180,"dB":-1.8},{"freq":"12","plane":"H面","angle":-175,"dB":-2.3},{"freq":"12","plane":"H面","angle":-169,"dB":-4.6},{"freq":"12","plane":"H面","angle":-165,"dB":-7.5},{"freq":"12","plane":"H面","angle":-161,"dB":-11.5},{"freq":"12","plane":"H面","angle":-157,"dB":-15.5},{"freq":"12","plane":"H面","angle":-153,"dB":-18.5},{"freq":"12","plane":"H面","angle":-148,"dB":-19.3},{"freq":"12","plane":"H面","angle":-143,"dB":-19.7},{"freq":"12","plane":"H面","angle":-135,"dB":-20.8},{"freq":"12","plane":"H面","angle":-131,"dB":-22},{"freq":"12","plane":"H面","angle":-127,"dB":-23.8},{"freq":"12","plane":"H面","angle":-123,"dB":-22},{"freq":"12","plane":"H面","angle":-119,"dB":-19.5},{"freq":"12","plane":"H面","angle":-115,"dB":-18.8},{"freq":"12","plane":"H面","angle":-111,"dB":-19.3},{"freq":"12","plane":"H面","angle":-107,"dB":-19.5},{"freq":"12","plane":"H面","angle":-100,"dB":-19.2},{"freq":"12","plane":"H面","angle":-97,"dB":-20.2},{"freq":"12","plane":"H面","angle":-94,"dB":-21.2},{"freq":"12","plane":"H面","angle":-90,"dB":-19.5},{"freq":"12","plane":"H面","angle":-87,"dB":-18},{"freq":"12","plane":"H面","angle":-79,"dB":-16.9},{"freq":"12","plane":"H面","angle":-73,"dB":-15.4},{"freq":"12","plane":"H面","angle":-65,"dB":-15.4},{"freq":"12","plane":"H面","angle":-60,"dB":-14},{"freq":"12","plane":"H面","angle":-55,"dB":-11.5},{"freq":"12","plane":"H面","angle":-50,"dB":-8},{"freq":"12","plane":"H面","angle":-45,"dB":-4.6},{"freq":"12","plane":"H面","angle":-41,"dB":-2},{"freq":"12","plane":"H面","angle":-37,"dB":0},{"freq":"12","plane":"H面","angle":-33,"dB":1.3},{"freq":"12","plane":"H面","angle":-29,"dB":2.3},{"freq":"12","plane":"H面","angle":-25,"dB":6},{"freq":"12","plane":"H面","angle":-21,"dB":10},{"freq":"12","plane":"H面","angle":-17,"dB":13},{"freq":"12","plane":"H面","angle":-13,"dB":15.4},{"freq":"12","plane":"H面","angle":-7,"dB":17.5},{"freq":"12","plane":"H面","angle":0,"dB":18.3},{"freq":"12","plane":"H面","angle":6,"dB":17.8},{"freq":"12","plane":"H面","angle":12,"dB":16.3},{"freq":"12","plane":"H面","angle":17,"dB":14.4},{"freq":"12","plane":"H面","angle":21,"dB":11},{"freq":"12","plane":"H面","angle":25,"dB":6.2},{"freq":"12","plane":"H面","angle":29,"dB":3},{"freq":"12","plane":"H面","angle":33,"dB":1.5},{"freq":"12","plane":"H面","angle":39,"dB":-1.5},{"freq":"12","plane":"H面","angle":45,"dB":-4.6},{"freq":"12","plane":"H面","angle":49,"dB":-7.5},{"freq":"12","plane":"H面","angle":52,"dB":-10},{"freq":"12","plane":"H面","angle":58,"dB":-12},{"freq":"12","plane":"H面","angle":64,"dB":-13.8},{"freq":"12","plane":"H面","angle":68,"dB":-15.2},{"freq":"12","plane":"H面","angle":72,"dB":-16.2},{"freq":"12","plane":"H面","angle":80,"dB":-17.7},{"freq":"12","plane":"H面","angle":86,"dB":-18.9},{"freq":"12","plane":"H面","angle":90,"dB":-20.5},{"freq":"12","plane":"H面","angle":93,"dB":-21.2},{"freq":"12","plane":"H面","angle":96,"dB":-20},{"freq":"12","plane":"H面","angle":100,"dB":-19.2},{"freq":"12","plane":"H面","angle":105,"dB":-19.8},{"freq":"12","plane":"H面","angle":110,"dB":-20.5},{"freq":"12","plane":"H面","angle":115,"dB":-20.3},{"freq":"12","plane":"H面","angle":118,"dB":-21.5},{"freq":"12","plane":"H面","angle":121,"dB":-24},{"freq":"12","plane":"H面","angle":124,"dB":-30},{"freq":"12","plane":"H面","angle":126,"dB":-33.8},{"freq":"12","plane":"H面","angle":128,"dB":-30},{"freq":"12","plane":"H面","angle":132,"dB":-23.8},{"freq":"12","plane":"H面","angle":136,"dB":-21.5},{"freq":"12","plane":"H面","angle":140,"dB":-20},{"freq":"12","plane":"H面","angle":145,"dB":-18.7},{"freq":"12","plane":"H面","angle":150,"dB":-17.7},{"freq":"12","plane":"H面","angle":156,"dB":-15.4},{"freq":"12","plane":"H面","angle":160,"dB":-12},{"freq":"12","plane":"H面","angle":164,"dB":-8.5},{"freq":"12","plane":"H面","angle":168,"dB":-5.8},{"freq":"12","plane":"H面","angle":172,"dB":-3.8},{"freq":"12","plane":"H面","angle":176,"dB":-2.3},{"freq":"12","plane":"H面","angle":180,"dB":-1.8},
      {"freq":"12","plane":"E面","angle":-180,"dB":-1.8},{"freq":"12","plane":"E面","angle":-175,"dB":-2.8},{"freq":"12","plane":"E面","angle":-171,"dB":-5},{"freq":"12","plane":"E面","angle":-169,"dB":-6.9},{"freq":"12","plane":"E面","angle":-166,"dB":-10},{"freq":"12","plane":"E面","angle":-164,"dB":-12},{"freq":"12","plane":"E面","angle":-160,"dB":-11.5},{"freq":"12","plane":"E面","angle":-157,"dB":-10.8},{"freq":"12","plane":"E面","angle":-153,"dB":-13.5},{"freq":"12","plane":"E面","angle":-149,"dB":-16.5},{"freq":"12","plane":"E面","angle":-146,"dB":-14},{"freq":"12","plane":"E面","angle":-142,"dB":-11.8},{"freq":"12","plane":"E面","angle":-138,"dB":-13.5},{"freq":"12","plane":"E面","angle":-134,"dB":-16.9},{"freq":"12","plane":"E面","angle":-131,"dB":-13.5},{"freq":"12","plane":"E面","angle":-128,"dB":-11.2},{"freq":"12","plane":"E面","angle":-124,"dB":-11.5},{"freq":"12","plane":"E面","angle":-121,"dB":-11.8},{"freq":"12","plane":"E面","angle":-117,"dB":-10},{"freq":"12","plane":"E面","angle":-114,"dB":-8.5},{"freq":"12","plane":"E面","angle":-110,"dB":-10},{"freq":"12","plane":"E面","angle":-107,"dB":-10.8},{"freq":"12","plane":"E面","angle":-103,"dB":-9.2},{"freq":"12","plane":"E面","angle":-100,"dB":-8.5},{"freq":"12","plane":"E面","angle":-96,"dB":-9.8},{"freq":"12","plane":"E面","angle":-93,"dB":-10.8},{"freq":"12","plane":"E面","angle":-90,"dB":-10.3},{"freq":"12","plane":"E面","angle":-87,"dB":-10},{"freq":"12","plane":"E面","angle":-83,"dB":-11.5},{"freq":"12","plane":"E面","angle":-78,"dB":-12.8},{"freq":"12","plane":"E面","angle":-74,"dB":-11.8},{"freq":"12","plane":"E面","angle":-69,"dB":-9.2},{"freq":"12","plane":"E面","angle":-65,"dB":-6},{"freq":"12","plane":"E面","angle":-61,"dB":-2.5},{"freq":"12","plane":"E面","angle":-57,"dB":0.8},{"freq":"12","plane":"E面","angle":-52,"dB":2.8},{"freq":"12","plane":"E面","angle":-46,"dB":4.3},{"freq":"12","plane":"E面","angle":-41,"dB":4.9},{"freq":"12","plane":"E面","angle":-37,"dB":4.4},{"freq":"12","plane":"E面","angle":-35,"dB":3.8},{"freq":"12","plane":"E面","angle":-32,"dB":2.2},{"freq":"12","plane":"E面","angle":-29,"dB":1.1},{"freq":"12","plane":"E面","angle":-26,"dB":4.5},{"freq":"12","plane":"E面","angle":-23,"dB":8.5},{"freq":"12","plane":"E面","angle":-18,"dB":12.5},{"freq":"12","plane":"E面","angle":-13,"dB":15.4},{"freq":"12","plane":"E面","angle":-7,"dB":17.6},{"freq":"12","plane":"E面","angle":0,"dB":18.3},{"freq":"12","plane":"E面","angle":6,"dB":17.8},{"freq":"12","plane":"E面","angle":12,"dB":16.3},{"freq":"12","plane":"E面","angle":17,"dB":14.6},{"freq":"12","plane":"E面","angle":21,"dB":11},{"freq":"12","plane":"E面","angle":25,"dB":6.2},{"freq":"12","plane":"E面","angle":28,"dB":2.5},{"freq":"12","plane":"E面","angle":30,"dB":1.4},{"freq":"12","plane":"E面","angle":34,"dB":3.1},{"freq":"12","plane":"E面","angle":38,"dB":4.2},{"freq":"12","plane":"E面","angle":42,"dB":4.6},{"freq":"12","plane":"E面","angle":47,"dB":3.8},{"freq":"12","plane":"E面","angle":52,"dB":2.3},{"freq":"12","plane":"E面","angle":56,"dB":0},{"freq":"12","plane":"E面","angle":60,"dB":-3.1},{"freq":"12","plane":"E面","angle":64,"dB":-6.5},{"freq":"12","plane":"E面","angle":68,"dB":-9.2},{"freq":"12","plane":"E面","angle":72,"dB":-11.8},{"freq":"12","plane":"E面","angle":76,"dB":-13.1},{"freq":"12","plane":"E面","angle":80,"dB":-12.3},{"freq":"12","plane":"E面","angle":83,"dB":-10.5},{"freq":"12","plane":"E面","angle":86,"dB":-9.7},{"freq":"12","plane":"E面","angle":90,"dB":-10.3},{"freq":"12","plane":"E面","angle":93,"dB":-10.5},{"freq":"12","plane":"E面","angle":96,"dB":-9.5},{"freq":"12","plane":"E面","angle":100,"dB":-8.5},{"freq":"12","plane":"E面","angle":104,"dB":-9.5},{"freq":"12","plane":"E面","angle":108,"dB":-10.8},{"freq":"12","plane":"E面","angle":111,"dB":-9.5},{"freq":"12","plane":"E面","angle":114,"dB":-8.5},{"freq":"12","plane":"E面","angle":118,"dB":-10},{"freq":"12","plane":"E面","angle":121,"dB":-11.5},{"freq":"12","plane":"E面","angle":124,"dB":-11.5},{"freq":"12","plane":"E面","angle":127,"dB":-11.2},{"freq":"12","plane":"E面","angle":130,"dB":-14},{"freq":"12","plane":"E面","angle":134,"dB":-18.9},{"freq":"12","plane":"E面","angle":137,"dB":-15.5},{"freq":"12","plane":"E面","angle":140,"dB":-12.8},{"freq":"12","plane":"E面","angle":143,"dB":-14},{"freq":"12","plane":"E面","angle":147,"dB":-16.5},{"freq":"12","plane":"E面","angle":150,"dB":-14},{"freq":"12","plane":"E面","angle":153,"dB":-10.5},{"freq":"12","plane":"E面","angle":156,"dB":-9.2},{"freq":"12","plane":"E面","angle":160,"dB":-10},{"freq":"12","plane":"E面","angle":164,"dB":-11.5},{"freq":"12","plane":"E面","angle":168,"dB":-8.5},{"freq":"12","plane":"E面","angle":172,"dB":-5},{"freq":"12","plane":"E面","angle":176,"dB":-2.8},{"freq":"12","plane":"E面","angle":180,"dB":-1.8},
      {"freq":"12.5","plane":"H面","angle":-180,"dB":-1.5},{"freq":"12.5","plane":"H面","angle":-175,"dB":-2},{"freq":"12.5","plane":"H面","angle":-168,"dB":-3.8},{"freq":"12.5","plane":"H面","angle":-164,"dB":-6.5},{"freq":"12.5","plane":"H面","angle":-160,"dB":-10},{"freq":"12.5","plane":"H面","angle":-156,"dB":-12.5},{"freq":"12.5","plane":"H面","angle":-152,"dB":-14.6},{"freq":"12.5","plane":"H面","angle":-148,"dB":-16.2},{"freq":"12.5","plane":"H面","angle":-144,"dB":-17.4},{"freq":"12.5","plane":"H面","angle":-139,"dB":-18.2},{"freq":"12.5","plane":"H面","angle":-134,"dB":-18.9},{"freq":"12.5","plane":"H面","angle":-129,"dB":-20.8},{"freq":"12.5","plane":"H面","angle":-124,"dB":-22.6},{"freq":"12.5","plane":"H面","angle":-120,"dB":-21.5},{"freq":"12.5","plane":"H面","angle":-116,"dB":-20.3},{"freq":"12.5","plane":"H面","angle":-112,"dB":-21.8},{"freq":"12.5","plane":"H面","angle":-108,"dB":-23.5},{"freq":"12.5","plane":"H面","angle":-104,"dB":-24.3},{"freq":"12.5","plane":"H面","angle":-100,"dB":-25.4},{"freq":"12.5","plane":"H面","angle":-98,"dB":-27.5},{"freq":"12.5","plane":"H面","angle":-96,"dB":-29.7},{"freq":"12.5","plane":"H面","angle":-93,"dB":-27},{"freq":"12.5","plane":"H面","angle":-89,"dB":-23.8},{"freq":"12.5","plane":"H面","angle":-85,"dB":-22.5},{"freq":"12.5","plane":"H面","angle":-81,"dB":-21.5},{"freq":"12.5","plane":"H面","angle":-78,"dB":-19.5},{"freq":"12.5","plane":"H面","angle":-75,"dB":-17.7},{"freq":"12.5","plane":"H面","angle":-69,"dB":-16.2},{"freq":"12.5","plane":"H面","angle":-63,"dB":-14.9},{"freq":"12.5","plane":"H面","angle":-58,"dB":-15.8},{"freq":"12.5","plane":"H面","angle":-53,"dB":-17.7},{"freq":"12.5","plane":"H面","angle":-49,"dB":-12},{"freq":"12.5","plane":"H面","angle":-45,"dB":-6.2},{"freq":"12.5","plane":"H面","angle":-41,"dB":-3},{"freq":"12.5","plane":"H面","angle":-37,"dB":-0.5},{"freq":"12.5","plane":"H面","angle":-32,"dB":1.8},{"freq":"12.5","plane":"H面","angle":-27,"dB":3.8},{"freq":"12.5","plane":"H面","angle":-23,"dB":7.5},{"freq":"12.5","plane":"H面","angle":-19,"dB":10.8},{"freq":"12.5","plane":"H面","angle":-13,"dB":14.8},{"freq":"12.5","plane":"H面","angle":-7,"dB":17.5},{"freq":"12.5","plane":"H面","angle":0,"dB":18.5},{"freq":"12.5","plane":"H面","angle":6,"dB":18},{"freq":"12.5","plane":"H面","angle":11,"dB":16.5},{"freq":"12.5","plane":"H面","angle":15,"dB":14.6},{"freq":"12.5","plane":"H面","angle":19,"dB":10},{"freq":"12.5","plane":"H面","angle":23,"dB":6.2},{"freq":"12.5","plane":"H面","angle":28,"dB":3.5},{"freq":"12.5","plane":"H面","angle":33,"dB":1.5},{"freq":"12.5","plane":"H面","angle":37,"dB":-0.6},{"freq":"12.5","plane":"H面","angle":41,"dB":-3.1},{"freq":"12.5","plane":"H面","angle":45,"dB":-6.5},{"freq":"12.5","plane":"H面","angle":48,"dB":-10.5},{"freq":"12.5","plane":"H面","angle":51,"dB":-13.8},{"freq":"12.5","plane":"H面","angle":55,"dB":-15.3},{"freq":"12.5","plane":"H面","angle":59,"dB":-15.8},{"freq":"12.5","plane":"H面","angle":63,"dB":-15.8},{"freq":"12.5","plane":"H面","angle":67,"dB":-16.5},{"freq":"12.5","plane":"H面","angle":71,"dB":-17.2},{"freq":"12.5","plane":"H面","angle":75,"dB":-18.5},{"freq":"12.5","plane":"H面","angle":80,"dB":-19.8},{"freq":"12.5","plane":"H面","angle":85,"dB":-20.8},{"freq":"12.5","plane":"H面","angle":90,"dB":-22.5},{"freq":"12.5","plane":"H面","angle":95,"dB":-24.9},{"freq":"12.5","plane":"H面","angle":100,"dB":-23},{"freq":"12.5","plane":"H面","angle":104,"dB":-22},{"freq":"12.5","plane":"H面","angle":109,"dB":-21.5},{"freq":"12.5","plane":"H面","angle":114,"dB":-20.3},{"freq":"12.5","plane":"H面","angle":118,"dB":-21.5},{"freq":"12.5","plane":"H面","angle":122,"dB":-23.1},{"freq":"12.5","plane":"H面","angle":127,"dB":-26.2},{"freq":"12.5","plane":"H面","angle":130,"dB":-23.5},{"freq":"12.5","plane":"H面","angle":134,"dB":-20.8},{"freq":"12.5","plane":"H面","angle":139,"dB":-19},{"freq":"12.5","plane":"H面","angle":144,"dB":-17.7},{"freq":"12.5","plane":"H面","angle":149,"dB":-15.5},{"freq":"12.5","plane":"H面","angle":154,"dB":-13.1},{"freq":"12.5","plane":"H面","angle":158,"dB":-10.5},{"freq":"12.5","plane":"H面","angle":162,"dB":-7.7},{"freq":"12.5","plane":"H面","angle":166,"dB":-5.3},{"freq":"12.5","plane":"H面","angle":170,"dB":-3.5},{"freq":"12.5","plane":"H面","angle":175,"dB":-2},{"freq":"12.5","plane":"H面","angle":180,"dB":-1.5},
      {"freq":"12.5","plane":"E面","angle":-180,"dB":-1.5},{"freq":"12.5","plane":"E面","angle":-175,"dB":-2.5},{"freq":"12.5","plane":"E面","angle":-170,"dB":-5.4},{"freq":"12.5","plane":"E面","angle":-167,"dB":-9},{"freq":"12.5","plane":"E面","angle":-165,"dB":-13},{"freq":"12.5","plane":"E面","angle":-163,"dB":-15.4},{"freq":"12.5","plane":"E面","angle":-160,"dB":-14},{"freq":"12.5","plane":"E面","angle":-156,"dB":-11.8},{"freq":"12.5","plane":"E面","angle":-152,"dB":-13.5},{"freq":"12.5","plane":"E面","angle":-149,"dB":-15.8},{"freq":"12.5","plane":"E面","angle":-146,"dB":-14},{"freq":"12.5","plane":"E面","angle":-142,"dB":-10.8},{"freq":"12.5","plane":"E面","angle":-139,"dB":-11},{"freq":"12.5","plane":"E面","angle":-136,"dB":-12.6},{"freq":"12.5","plane":"E面","angle":-132,"dB":-10},{"freq":"12.5","plane":"E面","angle":-128,"dB":-7.7},{"freq":"12.5","plane":"E面","angle":-125,"dB":-7.8},{"freq":"12.5","plane":"E面","angle":-122,"dB":-8.5},{"freq":"12.5","plane":"E面","angle":-119,"dB":-7.5},{"freq":"12.5","plane":"E面","angle":-116,"dB":-6.5},{"freq":"12.5","plane":"E面","angle":-112,"dB":-7.2},{"freq":"12.5","plane":"E面","angle":-108,"dB":-8.2},{"freq":"12.5","plane":"E面","angle":-104,"dB":-7},{"freq":"12.5","plane":"E面","angle":-100,"dB":-6.5},{"freq":"12.5","plane":"E面","angle":-97,"dB":-7},{"freq":"12.5","plane":"E面","angle":-94,"dB":-7.7},{"freq":"12.5","plane":"E面","angle":-91,"dB":-7.3},{"freq":"12.5","plane":"E面","angle":-89,"dB":-6.9},{"freq":"12.5","plane":"E面","angle":-85,"dB":-8},{"freq":"12.5","plane":"E面","angle":-81,"dB":-9.2},{"freq":"12.5","plane":"E面","angle":-77,"dB":-10.8},{"freq":"12.5","plane":"E面","angle":-74,"dB":-14},{"freq":"12.5","plane":"E面","angle":-71,"dB":-19.2},{"freq":"12.5","plane":"E面","angle":-68,"dB":-14},{"freq":"12.5","plane":"E面","angle":-65,"dB":-8.5},{"freq":"12.5","plane":"E面","angle":-60,"dB":-4},{"freq":"12.5","plane":"E面","angle":-55,"dB":-0.8},{"freq":"12.5","plane":"E面","angle":-50,"dB":2.5},{"freq":"12.5","plane":"E面","angle":-45,"dB":5},{"freq":"12.5","plane":"E面","angle":-41,"dB":6.5},{"freq":"12.5","plane":"E面","angle":-37,"dB":6},{"freq":"12.5","plane":"E面","angle":-33,"dB":4.6},{"freq":"12.5","plane":"E面","angle":-30,"dB":2.5},{"freq":"12.5","plane":"E面","angle":-27,"dB":0.5},{"freq":"12.5","plane":"E面","angle":-24,"dB":4},{"freq":"12.5","plane":"E面","angle":-21,"dB":8.5},{"freq":"12.5","plane":"E面","angle":-17,"dB":12},{"freq":"12.5","plane":"E面","angle":-13,"dB":15.4},{"freq":"12.5","plane":"E面","angle":-7,"dB":17.7},{"freq":"12.5","plane":"E面","angle":0,"dB":18.5},{"freq":"12.5","plane":"E面","angle":6,"dB":18},{"freq":"12.5","plane":"E面","angle":11,"dB":16.6},{"freq":"12.5","plane":"E面","angle":15,"dB":15.4},{"freq":"12.5","plane":"E面","angle":18,"dB":12},{"freq":"12.5","plane":"E面","angle":21,"dB":8.5},{"freq":"12.5","plane":"E面","angle":24,"dB":4},{"freq":"12.5","plane":"E面","angle":26,"dB":1.2},{"freq":"12.5","plane":"E面","angle":29,"dB":3},{"freq":"12.5","plane":"E面","angle":33,"dB":5.1},{"freq":"12.5","plane":"E面","angle":37,"dB":6.2},{"freq":"12.5","plane":"E面","angle":40,"dB":6.5},{"freq":"12.5","plane":"E面","angle":45,"dB":5.5},{"freq":"12.5","plane":"E面","angle":51,"dB":3.1},{"freq":"12.5","plane":"E面","angle":55,"dB":0},{"freq":"12.5","plane":"E面","angle":59,"dB":-3.8},{"freq":"12.5","plane":"E面","angle":62,"dB":-8},{"freq":"12.5","plane":"E面","angle":65,"dB":-13.1},{"freq":"12.5","plane":"E面","angle":67,"dB":-17},{"freq":"12.5","plane":"E面","angle":69,"dB":-18.9},{"freq":"12.5","plane":"E面","angle":72,"dB":-15},{"freq":"12.5","plane":"E面","angle":75,"dB":-11.5},{"freq":"12.5","plane":"E面","angle":78,"dB":-9.5},{"freq":"12.5","plane":"E面","angle":81,"dB":-8.8},{"freq":"12.5","plane":"E面","angle":85,"dB":-7.8},{"freq":"12.5","plane":"E面","angle":89,"dB":-6.9},{"freq":"12.5","plane":"E面","angle":93,"dB":-7.2},{"freq":"12.5","plane":"E面","angle":97,"dB":-7.7},{"freq":"12.5","plane":"E面","angle":100,"dB":-7},{"freq":"12.5","plane":"E面","angle":103,"dB":-6.5},{"freq":"12.5","plane":"E面","angle":107,"dB":-7.2},{"freq":"12.5","plane":"E面","angle":111,"dB":-8},{"freq":"12.5","plane":"E面","angle":114,"dB":-7},{"freq":"12.5","plane":"E面","angle":118,"dB":-6.2},{"freq":"12.5","plane":"E面","angle":121,"dB":-7},{"freq":"12.5","plane":"E面","angle":124,"dB":-8},{"freq":"12.5","plane":"E面","angle":127,"dB":-7.6},{"freq":"12.5","plane":"E面","angle":129,"dB":-7.4},{"freq":"12.5","plane":"E面","angle":132,"dB":-9.5},{"freq":"12.5","plane":"E面","angle":136,"dB":-13.1},{"freq":"12.5","plane":"E面","angle":139,"dB":-12},{"freq":"12.5","plane":"E面","angle":142,"dB":-11.5},{"freq":"12.5","plane":"E面","angle":145,"dB":-14},{"freq":"12.5","plane":"E面","angle":148,"dB":-17.4},{"freq":"12.5","plane":"E面","angle":151,"dB":-14},{"freq":"12.5","plane":"E面","angle":154,"dB":-11},{"freq":"12.5","plane":"E面","angle":156,"dB":-10},{"freq":"12.5","plane":"E面","angle":159,"dB":-10.2},{"freq":"12.5","plane":"E面","angle":161,"dB":-10.8},{"freq":"12.5","plane":"E面","angle":163,"dB":-12},{"freq":"12.5","plane":"E面","angle":166,"dB":-13.1},{"freq":"12.5","plane":"E面","angle":170,"dB":-9},{"freq":"12.5","plane":"E面","angle":174,"dB":-5},{"freq":"12.5","plane":"E面","angle":177,"dB":-2.5},{"freq":"12.5","plane":"E面","angle":180,"dB":-1.5}
    ]
  },
  "data": {"name": "pattern"},
  "columns": 2,
  "spacing": {"row": 145, "column": 80},
  "bounds": "flush",
  "resolve": {"scale": {"color": "independent", "y": "independent"}, "legend": {"color": "independent"}},
  "concat": [
    {
      "title": "F=8GHz",
      "width": 335, "height": 151,
      "transform": [{"filter": "datum.freq === '8'"}],
      "mark": {"type": "line", "interpolate": "monotone", "strokeWidth": 2.25},
      "encoding": {
        "x": {"field": "angle", "type": "quantitative", "scale": {"domain": [-200, 200], "nice": false}, "axis": {"values": [-200, -100, 0, 100, 200], "title": "角度（°）"}},
        "y": {"field": "dB", "type": "quantitative", "scale": {"domain": [-40, 20], "nice": false, "zero": false}, "axis": {"values": [-40, -30, -20, -10, 0, 10, 20], "title": "幅度（dB）"}},
        "color": {"field": "plane", "type": "nominal", "sort": ["H面", "E面"], "scale": {"domain": ["H面", "E面"], "range": ["#5B9BD5", "#ED7D31"]}, "legend": {"orient": "none", "legendX": 108, "legendY": 208, "direction": "horizontal", "title": null}}
      }
    },
    {
      "title": "F=9GHz",
      "width": 335, "height": 151,
      "transform": [{"filter": "datum.freq === '9'"}],
      "mark": {"type": "line", "interpolate": "monotone", "strokeWidth": 2.25},
      "encoding": {
        "x": {"field": "angle", "type": "quantitative", "scale": {"domain": [-200, 200], "nice": false}, "axis": {"values": [-200, -100, 0, 100, 200], "title": "角度（°）"}},
        "y": {"field": "dB", "type": "quantitative", "scale": {"domain": [-40, 20], "nice": false, "zero": false}, "axis": {"values": [-40, -30, -20, -10, 0, 10, 20], "title": "幅度（dB）"}},
        "color": {"field": "plane", "type": "nominal", "sort": ["H面", "E面"], "scale": {"domain": ["H面", "E面"], "range": ["#5B9BD5", "#ED7D31"]}, "legend": {"orient": "none", "legendX": 92, "legendY": 208, "direction": "horizontal", "title": null}}
      }
    },
    {
      "title": "F=10GHz",
      "width": 335, "height": 151,
      "transform": [{"filter": "datum.freq === '10'"}],
      "mark": {"type": "line", "interpolate": "monotone", "strokeWidth": 2.25},
      "encoding": {
        "x": {"field": "angle", "type": "quantitative", "scale": {"domain": [-200, 200], "nice": false}, "axis": {"values": [-200, -100, 0, 100, 200], "title": "角度（°）"}},
        "y": {"field": "dB", "type": "quantitative", "scale": {"domain": [-50, 20], "nice": false, "zero": false}, "axis": {"values": [-50, -40, -30, -20, -10, 0, 10, 20], "title": "幅度（dB）"}},
        "color": {"field": "plane", "type": "nominal", "sort": ["H面", "E面"], "scale": {"domain": ["H面", "E面"], "range": ["#5B9BD5", "#ED7D31"]}, "legend": {"orient": "none", "legendX": 102, "legendY": 208, "direction": "horizontal", "title": null}}
      }
    },
    {
      "title": "F=11GHz",
      "width": 335, "height": 151,
      "transform": [{"filter": "datum.freq === '11'"}],
      "mark": {"type": "line", "interpolate": "monotone", "strokeWidth": 2.25},
      "encoding": {
        "x": {"field": "angle", "type": "quantitative", "scale": {"domain": [-200, 200], "nice": false}, "axis": {"values": [-200, -100, 0, 100, 200], "title": "角度（°）"}},
        "y": {"field": "dB", "type": "quantitative", "scale": {"domain": [-30, 20], "nice": false, "zero": false}, "axis": {"values": [-30, -25, -20, -15, -10, -5, 0, 5, 10, 15, 20], "title": "幅度（dB）"}},
        "color": {"field": "plane", "type": "nominal", "sort": ["H面", "E面"], "scale": {"domain": ["H面", "E面"], "range": ["#5B9BD5", "#ED7D31"]}, "legend": {"orient": "none", "legendX": 106, "legendY": 208, "direction": "horizontal", "title": null}}
      }
    },
    {
      "title": "F=12GHz",
      "width": 335, "height": 151,
      "transform": [{"filter": "datum.freq === '12'"}],
      "mark": {"type": "line", "interpolate": "monotone", "strokeWidth": 2.25},
      "encoding": {
        "x": {"field": "angle", "type": "quantitative", "scale": {"domain": [-200, 200], "nice": false}, "axis": {"values": [-200, -100, 0, 100, 200], "title": "角度（°）"}},
        "y": {"field": "dB", "type": "quantitative", "scale": {"domain": [-40, 30], "nice": false, "zero": false}, "axis": {"values": [-40, -30, -20, -10, 0, 10, 20, 30], "title": "幅度（dB）"}},
        "color": {"field": "plane", "type": "nominal", "sort": ["H面", "E面"], "scale": {"domain": ["H面", "E面"], "range": ["#5B9BD5", "#ED7D31"]}, "legend": {"orient": "none", "legendX": 102, "legendY": 208, "direction": "horizontal", "title": null}}
      }
    },
    {
      "title": "F=12.5GHz",
      "width": 335, "height": 151,
      "transform": [{"filter": "datum.freq === '12.5'"}],
      "mark": {"type": "line", "interpolate": "monotone", "strokeWidth": 2.25},
      "encoding": {
        "x": {"field": "angle", "type": "quantitative", "scale": {"domain": [-200, 200], "nice": false}, "axis": {"values": [-200, -100, 0, 100, 200], "title": "角度（°）"}},
        "y": {"field": "dB", "type": "quantitative", "scale": {"domain": [-40, 30], "nice": false, "zero": false}, "axis": {"values": [-40, -30, -20, -10, 0, 10, 20, 30], "title": "幅度（dB）"}},
        "color": {"field": "plane", "type": "nominal", "sort": ["H面", "E面"], "scale": {"domain": ["H面", "E面"], "range": ["#5B9BD5", "#ED7D31"]}, "legend": {"orient": "none", "legendX": 106, "legendY": 208, "direction": "horizontal", "title": null}}
      }
    }
  ],
  "config": {
    "font": "Noto Sans CJK SC",
    "view": {"stroke": "#d9d9d9"},
    "axis": {
      "grid": true, "gridColor": "#d9d9d9", "domain": false, "ticks": false, "labelFlush": false,
      "labelColor": "#595959", "labelFontSize": 11, "labelPadding": 6,
      "titleColor": "#595959", "titleFontSize": 12, "titleFontWeight": "normal", "titlePadding": 4
    },
    "axisX": {"labelPadding": 10, "titlePadding": 18},
    "title": {"fontSize": 16, "fontWeight": "normal", "color": "#595959", "offset": 15},
    "legend": {
      "labelFontSize": 12, "labelColor": "#595959", "symbolType": "stroke",
      "symbolStrokeWidth": 2.5, "symbolSize": 784, "columnPadding": 8, "labelOffset": 3
    }
  }
}
